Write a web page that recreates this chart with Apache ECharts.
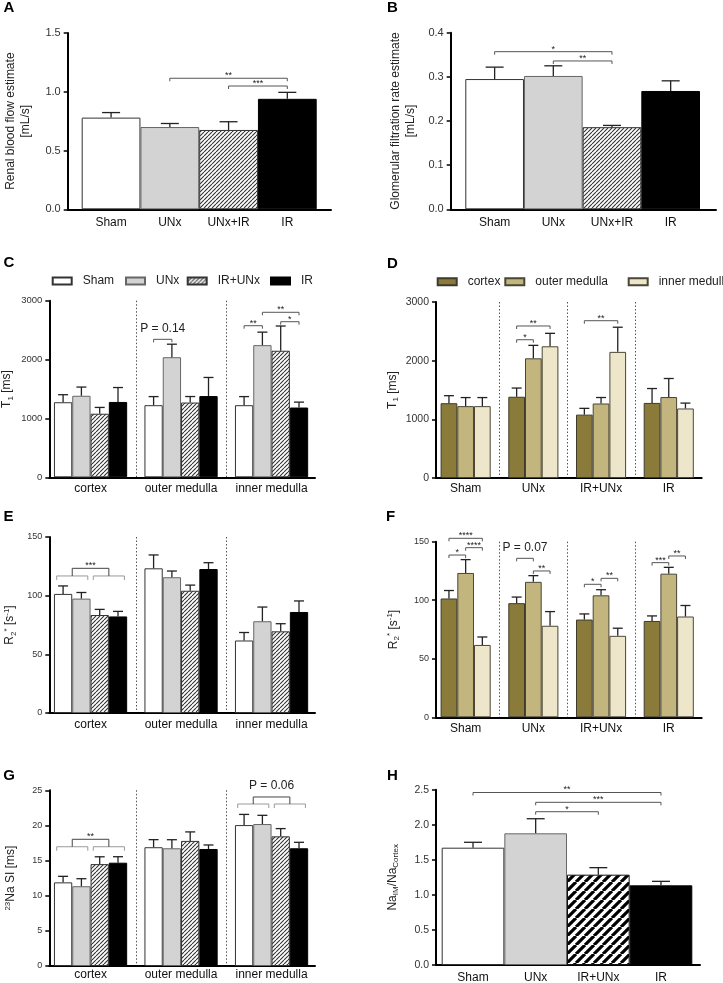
<!DOCTYPE html>
<html><head><meta charset="utf-8">
<script src="https://cdn.jsdelivr.net/npm/echarts@6/dist/echarts.min.js"></script>
<style>html,body{margin:0;padding:0;background:#fff}#c{width:723px;height:983px}</style>
</head><body><div id="c"></div>
<script>
const FONT = "'Liberation Sans', Arial, sans-serif";

// ---------------- DATA ----------------
const treatCatsAB = ['Sham', 'UNx', 'UNx+IR', 'IR'];
const treatCats = ['Sham', 'UNx', 'IR+UNx', 'IR'];
const regionCats = ['cortex', 'outer medulla', 'inner medulla'];

// A: renal blood flow estimate [mL/s]
const rbfMean = [0.78, 0.70, 0.675, 0.94];
const rbfErr = [0.043, 0.030, 0.070, 0.055];
// B: glomerular filtration rate estimate [mL/s]
const gfrMean = [0.295, 0.302, 0.186, 0.268];
const gfrErr = [0.027, 0.023, 0.004, 0.023];

// T1 [ms] per treatment, values for [cortex, outer medulla, inner medulla]
const t1Sham = [1275, 1225, 1225];
const t1UNx = [1385, 2040, 2245];
const t1IRUNx = [1080, 1270, 2150];
const t1IR = [1280, 1380, 1185];
const t1ShamErr = [128, 146, 146];
const t1UNxErr = [148, 221, 221];
const t1IRUNxErr = [107, 102, 420];
const t1IRErr = [245, 316, 92];

// R2* [1/s]
const r2Sham = [101.5, 123.3, 61.8];
const r2UNx = [97.5, 115.7, 78.2];
const r2IRUNx = [83.5, 104.2, 69.6];
const r2IR = [82.3, 122.7, 86.1];
const r2ShamErr = [6.8, 11.4, 6.8];
const r2UNxErr = [5.2, 5.3, 12.1];
const r2IRUNxErr = [4.8, 4.8, 6.5];
const r2IRErr = [4.3, 5.4, 9.4];

// 23Na SI [ms]
const naSham = [11.9, 16.9, 20.05];
const naUNx = [11.35, 16.75, 20.2];
const naIRUNx = [14.5, 17.8, 18.45];
const naIR = [14.7, 16.65, 16.75];
const naShamErr = [0.86, 1.08, 1.52];
const naUNxErr = [1.07, 1.22, 1.24];
const naIRUNxErr = [1.04, 1.28, 1.10];
const naIRErr = [0.85, 0.57, 0.85];

// H: Na_IM / Na_Cortex
const ratioMean = [1.673, 1.878, 1.288, 1.136];
const ratioErr = [0.077, 0.208, 0.100, 0.057];

// significance brackets: endpoints [category, bar-in-group], y in data units
const bracketsA = [{a: [1, 0], b: [3, 0], y: 1.115, t: '**'}, {a: [2, 0], b: [3, 0], y: 1.049, t: '***'}];
const bracketsB = [{a: [0, 0], b: [2, 0], y: 0.357, t: '*'}, {a: [1, 0], b: [2, 0], y: 0.336, t: '**'}];
const bracketsC = [
  {a: [1, 0], b: [1, 1], y: 2344, t: 'P = 0.14'},
  {a: [2, 0], b: [2, 1], y: 2575, t: '**'},
  {a: [2, 1], b: [2, 3], y: 2803, t: '**'},
  {a: [2, 2], b: [2, 3], y: 2643, t: '*'}
];
const bracketsD = [
  {a: [1, 0], b: [1, 1], y: 2357, t: '*'},
  {a: [1, 0], b: [1, 2], y: 2591, t: '**'},
  {a: [2, 0], b: [2, 2], y: 2681, t: '**'}
];
const bracketsE = [{c: 0, lower: [[-0.35, 1.35], [1.65, 3.35]], yl: 116.8, yu: 123.3, t: '***'}];
const bracketsF = [
  {a: [0, 0], b: [0, 2], y: 152.9, t: '****'},
  {a: [0, 0], b: [0, 1], y: 138.6, t: '*'},
  {a: [0, 1], b: [0, 2], y: 144.9, t: '****'},
  {a: [1, 0], b: [1, 1], y: 135.8, t: 'P = 0.07'},
  {a: [1, 1], b: [1, 2], y: 125.0, t: '**'},
  {a: [2, 0], b: [2, 1], y: 113.6, t: '*'},
  {a: [2, 1], b: [2, 2], y: 118.7, t: '**'},
  {a: [3, 0], b: [3, 1], y: 132.1, t: '***'},
  {a: [3, 1], b: [3, 2], y: 137.8, t: '**'}
];
const bracketsG = [
  {c: 0, lower: [[-0.35, 1.35], [1.65, 3.35]], yl: 16.97, yu: 18.03, t: '**'},
  {c: 2, lower: [[-0.35, 1.35], [1.65, 3.35]], yl: 23.05, yu: 24.05, t: 'P = 0.06'}
];
const bracketsH = [
  {a: [0, 0], b: [3, 0], y: 2.46, t: '**'},
  {a: [1, 0], b: [3, 0], y: 2.32, t: '***'},
  {a: [1, 0], b: [2, 0], y: 2.186, t: '*'}
];

// ---------------- STYLES ----------------
function hatch(size, lw, color) {
  const c = document.createElement('canvas');
  c.width = size; c.height = size;
  const ctx = c.getContext('2d');
  ctx.fillStyle = '#fff'; ctx.fillRect(0, 0, size, size);
  ctx.strokeStyle = color; ctx.lineWidth = lw; ctx.beginPath();
  for (let k = -1; k <= 1; k++) { ctx.moveTo(k * size, size); ctx.lineTo(k * size + size, 0); }
  ctx.stroke();
  return c;
}
const fineHatch = {image: hatch(4, 1.1, '#333'), repeat: 'repeat'};
const boldHatch = {image: hatch(9, 3.2, '#000'), repeat: 'repeat'};
const stSham = {color: '#fff', borderColor: '#333', borderWidth: 1};
const stUNx = {color: '#d3d3d3', borderColor: '#666', borderWidth: 1};
const stIRUNx = {color: fineHatch, borderColor: '#333', borderWidth: 1};
const stIRUNxBold = {color: boldHatch, borderColor: '#111', borderWidth: 1};
const stIR = {color: '#000', borderColor: '#000', borderWidth: 1};
const stCortex = {color: '#8b7b3b', borderColor: '#3e3a2c', borderWidth: 1};
const stOuter = {color: '#c2b57e', borderColor: '#4a4636', borderWidth: 1};
const stInner = {color: '#ede6ca', borderColor: '#4a4636', borderWidth: 1};

const RICH = {
  n: {fontSize: 12, lineHeight: 15, fontFamily: FONT, color: '#222'},
  sub: {fontSize: 8, lineHeight: 8, verticalAlign: 'bottom', fontFamily: FONT, color: '#222'},
  sup: {fontSize: 8, lineHeight: 8, verticalAlign: 'top', fontFamily: FONT, color: '#222'}
};

// ---------------- BUILD ----------------
const grid = [], xAxis = [], yAxis = [], series = [];

function slotX(api, c, j, n, gap) {
  const bw = api.size([1, 0])[0];
  const w = bw * (1 - gap) / n;
  return api.coord([c, 0])[0] + (j - (n - 1) / 2) * w;
}
function ln(x1, y1, x2, y2, stroke, lw) {
  return {type: 'line', shape: {x1, y1, x2, y2}, style: {stroke, lineWidth: lw || 1}};
}

function panel(p) {
  const g = grid.length, xa = xAxis.length, ya = yAxis.length;
  const h = p.bottom - p.top;
  grid.push({left: p.frame[0], top: p.top, width: p.frame[1] - p.frame[0], height: h, containLabel: false, outerBoundsMode: 'none'});
  grid.push({left: p.data[0], top: p.top, width: p.data[1] - p.data[0], height: h, containLabel: false, outerBoundsMode: 'none'});
  xAxis.push({gridIndex: g, type: 'value', min: 0, max: 1, axisLine: {show: true, lineStyle: {color: '#000', width: 2}},
    axisTick: {show: false}, axisLabel: {show: false}, splitLine: {show: false}});
  xAxis.push({gridIndex: g + 1, type: 'category', data: p.cats, boundaryGap: true,
    axisLine: {show: false}, axisTick: {show: false},
    axisLabel: {show: true, interval: 0, margin: p.xMargin, fontSize: 12, fontFamily: FONT, color: '#111'},
    splitLine: {show: !!p.sep, interval: 0, showMinLine: false, showMaxLine: false,
      lineStyle: {type: [1.5, 2], color: '#555', width: 1}}});
  yAxis.push({gridIndex: g, type: 'value', min: 0, max: p.max, interval: p.interval,
    axisLine: {show: true, lineStyle: {color: '#000', width: 2}},
    axisTick: {show: true, length: 4, lineStyle: {color: '#000', width: 1.5}},
    axisLabel: {margin: 7, fontSize: p.yFont, fontFamily: FONT, color: '#333', formatter: v => v.toFixed(p.dec)},
    splitLine: {show: false},
    name: p.name, nameLocation: 'middle', nameRotate: 90, nameGap: p.nameGap,
    nameTextStyle: {fontSize: 12, lineHeight: 15, fontFamily: FONT, color: '#222', rich: RICH}});
  yAxis.push({gridIndex: g + 1, type: 'value', min: 0, max: p.max, show: false});

  const n = p.groups.length, gap = p.gap;
  const errData = [];
  p.groups.forEach((s, j) => {
    series.push({type: 'bar', name: s.name, xAxisIndex: xa + 1, yAxisIndex: ya + 1,
      barGap: '0%', barCategoryGap: (gap * 100) + '%',
      data: s.values.map((v, i) => ({value: v, itemStyle: s.styles ? s.styles[i] : s.style})),
      itemStyle: s.style || {}, silent: true});
    s.values.forEach((v, c) => errData.push([c, j, v, s.errs[c]]));
  });
  series.push({type: 'custom', xAxisIndex: xa + 1, yAxisIndex: ya + 1, clip: false, z: 5, silent: true,
    data: errData,
    renderItem: (params, api) => {
      const c = api.value(0), j = api.value(1), m = api.value(2), e = api.value(3);
      const x = slotX(api, c, j, n, gap);
      const y0 = api.coord([c, m])[1], y1 = api.coord([c, m + e])[1];
      return {type: 'group', children: [
        ln(x, y0, x, y1, '#222', 1.3),
        ln(x - p.cap / 2, y1, x + p.cap / 2, y1, '#222', 1.3)
      ]};
    }});
  series.push({type: 'custom', xAxisIndex: xa + 1, yAxisIndex: ya + 1, clip: false, z: 6, silent: true,
    data: p.brackets.map(b => [b.a ? b.a[0] : b.c, b.a ? b.y : b.yu]),
    renderItem: (params, api) => {
      const b = p.brackets[params.dataIndex];
      const ch = [];
      const txt = (x, y, t) => {
        const isP = t.charAt(0) === 'P';
        ch.push({type: 'text', style: {text: t, x: x, y: y - (isP ? 11 : 2.5), align: 'center', verticalAlign: 'middle',
          font: (isP ? '12px ' : '9px ') + FONT, fill: '#222'}});
      };
      if (b.lower) {
        const yl = api.coord([b.c, b.yl])[1], yu = api.coord([b.c, b.yu])[1];
        const mids = [];
        b.lower.forEach(([a1, a2]) => {
          const x1 = slotX(api, b.c, a1, n, gap), x2 = slotX(api, b.c, a2, n, gap);
          ch.push(ln(x1, yl, x2, yl, '#999'), ln(x1, yl, x1, yl + 4, '#999'), ln(x2, yl, x2, yl + 4, '#999'));
          mids.push((x1 + x2) / 2);
        });
        ch.push(ln(mids[0], yu, mids[1], yu, '#444'), ln(mids[0], yu, mids[0], yl, '#444'), ln(mids[1], yu, mids[1], yl, '#444'));
        txt((mids[0] + mids[1]) / 2, yu, b.t);
      } else {
        const x1 = slotX(api, b.a[0], b.a[1], n, gap), x2 = slotX(api, b.b[0], b.b[1], n, gap);
        const y = api.coord([b.a[0], b.y])[1];
        ch.push(ln(x1, y, x2, y, '#555'), ln(x1, y, x1, y + 3, '#555'), ln(x2, y, x2, y + 3, '#555'));
        txt((x1 + x2) / 2, y, b.t);
      }
      return {type: 'group', children: ch};
    }});
}

const treatStylesAB = [stSham, stUNx, stIRUNx, stIR];
const treatStylesH = [stSham, stUNx, stIRUNxBold, stIR];
const byTreatment = (sham, unx, irunx, ir, eSham, eUnx, eIrunx, eIr) => [
  {name: 'Sham', values: sham, errs: eSham, style: stSham},
  {name: 'UNx', values: unx, errs: eUnx, style: stUNx},
  {name: 'IR+UNx', values: irunx, errs: eIrunx, style: stIRUNx},
  {name: 'IR', values: ir, errs: eIr, style: stIR}
];
const byRegion = (rows, errRows) => regionCats.map((r, k) => ({
  name: r, values: rows.map(row => row[k]), errs: errRows.map(row => row[k]),
  style: [stCortex, stOuter, stInner][k]
}));

// A
panel({frame: [67.7, 331], data: [81.7, 316.7], top: 33, bottom: 209.3, max: 1.5, interval: 0.5, dec: 1, yFont: 11, xMargin: 7,
  cats: treatCatsAB, name: 'Renal blood flow estimate\n[mL/s]', nameGap: 35, gap: 0, cap: 18, brackets: bracketsA,
  groups: [{name: 'rbf', values: rbfMean, errs: rbfErr, styles: treatStylesAB}]});
// B
panel({frame: [450.7, 716], data: [465.3, 700], top: 32.7, bottom: 209.3, max: 0.4, interval: 0.1, dec: 1, yFont: 11, xMargin: 7,
  cats: treatCatsAB, name: 'Glomerular filtration rate estimate\n[mL/s]', nameGap: 33, gap: 0, cap: 18, brackets: bracketsB,
  groups: [{name: 'gfr', values: gfrMean, errs: gfrErr, styles: treatStylesAB}]});
// C
panel({frame: [49.3, 315], data: [45.3, 316.8], top: 300.7, bottom: 477.3, max: 3000, interval: 1000, dec: 0, yFont: 9.5, xMargin: 5,
  cats: regionCats, name: '{n|T}{sub|1}{n| [ms]}', nameGap: 35, gap: 0.191, cap: 10, sep: true, brackets: bracketsC,
  groups: byTreatment(t1Sham, t1UNx, t1IRUNx, t1IR, t1ShamErr, t1UNxErr, t1IRUNxErr, t1IRErr)});
// D
panel({frame: [436, 701.7], data: [431.8, 702.6], top: 302, bottom: 478, max: 3000, interval: 1000, dec: 0, yFont: 10.5, xMargin: 5,
  cats: treatCats, name: '{n|T}{sub|1}{n| [ms]}', nameGap: 36, gap: 0.26, cap: 10, sep: true, brackets: bracketsD,
  groups: byRegion([t1Sham, t1UNx, t1IRUNx, t1IR], [t1ShamErr, t1UNxErr, t1IRUNxErr, t1IRErr])});
// E
panel({frame: [49.3, 315], data: [45.3, 316.8], top: 537, bottom: 713, max: 150, interval: 50, dec: 0, yFont: 9, xMargin: 6,
  cats: regionCats, name: '{n|R}{sub|2}{sup|*}{n| [s}{sup|-1}{n|]}', nameGap: 32, gap: 0.191, cap: 10, sep: true, brackets: bracketsE,
  groups: byTreatment(r2Sham, r2UNx, r2IRUNx, r2IR, r2ShamErr, r2UNxErr, r2IRUNxErr, r2IRErr)});
// F
panel({frame: [436, 701.7], data: [431.8, 702.6], top: 541.7, bottom: 717.3, max: 150, interval: 50, dec: 0, yFont: 9, xMargin: 5,
  cats: treatCats, name: '{n|R}{sub|2}{sup|*}{n| [s}{sup|-1}{n|]}', nameGap: 35, gap: 0.26, cap: 10, sep: true, brackets: bracketsF,
  groups: byRegion([r2Sham, r2UNx, r2IRUNx, r2IR], [r2ShamErr, r2UNxErr, r2IRUNxErr, r2IRErr])});
// G
panel({frame: [49.3, 315], data: [45.3, 316.8], top: 790.3, bottom: 966, max: 25, interval: 5, dec: 0, yFont: 9, xMargin: 3,
  cats: regionCats, name: '{sup|23}{n|Na SI [ms]}', nameGap: 31, gap: 0.191, cap: 10, sep: true, brackets: bracketsG,
  groups: byTreatment(naSham, naUNx, naIRUNx, naIR, naShamErr, naUNxErr, naIRUNxErr, naIRErr)});
// H
panel({frame: [436, 700], data: [441.7, 692.3], top: 789.7, bottom: 965, max: 2.5, interval: 0.5, dec: 1, yFont: 10.5, xMargin: 7,
  cats: treatCats, name: '{n|Na}{sub|IM}{n|/Na}{sub|Cortex}', nameGap: 36, gap: 0, cap: 18, brackets: bracketsH,
  groups: [{name: 'ratio', values: ratioMean, errs: ratioErr, styles: treatStylesH}]});

function legendItem(name, left, top) {
  return {data: [name], left: left, top: top, padding: 0, itemWidth: 19, itemHeight: 7, icon: 'rect',
    selectedMode: false, textStyle: {fontSize: 12, fontFamily: FONT, color: '#222', padding: [0, 0, 0, 6]}};
}
const legend = [
  legendItem('Sham', 51.7, 275), legendItem('UNx', 125, 275), legendItem('IR+UNx', 186.7, 275), legendItem('IR', 270, 275),
  legendItem('cortex', 436.7, 275.7), legendItem('outer medulla', 504.3, 275.7), legendItem('inner medulla', 627.7, 275.7)
];

const letters = [['A', 9, 8], ['B', 392.5, 8], ['C', 9, 263.3], ['D', 392.5, 264], ['E', 8.5, 516.5], ['F', 390.5, 516.5], ['G', 9, 776], ['H', 392.5, 776]];
const graphic = letters.map(([t, x, y]) => ({type: 'text', x: x, y: y, silent: true,
  style: {text: t, font: 'bold 15px ' + FONT, fill: '#000', align: 'center', verticalAlign: 'middle'}}));

const chart = echarts.init(document.getElementById('c'), null, {renderer: 'canvas'});
chart.setOption({
  animation: false,
  backgroundColor: '#fff',
  textStyle: {fontFamily: FONT},
  grid, xAxis, yAxis, series, legend, graphic
});
</script>
</body></html>
